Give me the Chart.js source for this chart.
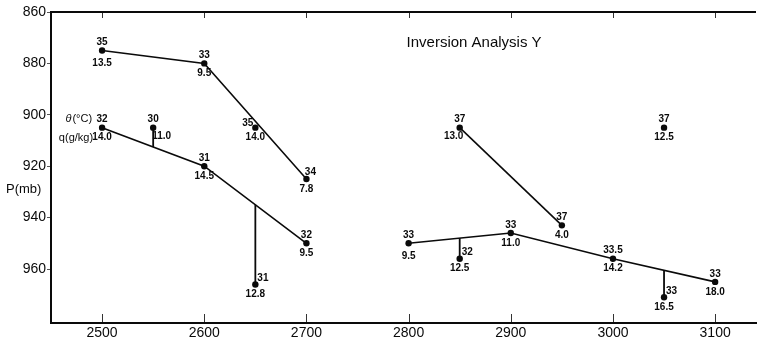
<!DOCTYPE html>
<html>
<head>
<meta charset="utf-8">
<title>Inversion Analysis Y</title>
<script src="https://cdn.jsdelivr.net/npm/chart.js@4/dist/chart.umd.min.js"></script>
<style>
  html, body { margin: 0; padding: 0; background: #ffffff; }
  #wrap { width: 760px; height: 339px; }
</style>
</head>
<body>
<div id="wrap"><canvas id="chart" width="760" height="339"></canvas></div>
<script>
// ---- Axis ticks ----
const distanceTicks = [2500, 2600, 2700, 2800, 2900, 3000, 3100];
const pressureTicks = [860, 880, 900, 920, 940, 960];

// ---- Leg A: upper traverse, west part ----
const legAX = [2500, 2600, 2700];
const legAP = [875, 880, 925];
const legATheta = [35, 33, 34];
const legAQ = [13.5, 9.5, 7.8];

// ---- Leg B: lower traverse, west part ----
const legBX = [2500, 2600, 2700];
const legBP = [905, 920, 950];
const legBTheta = [32, 31, 32];
const legBQ = [14.0, 14.5, 9.5];

// ---- Leg C: upper traverse, east part ----
const legCX = [2850, 2950];
const legCP = [905, 943];
const legCTheta = [37, 37];
const legCQ = [13.0, 4.0];

// ---- Leg D: lower traverse, east part ----
const legDX = [2800, 2900, 3000, 3100];
const legDP = [950, 946, 956, 965];
const legDTheta = [33, 33, 33.5, 33];
const legDQ = [9.5, 11.0, 14.2, 18.0];

// ---- Single soundings without a connecting line ----
const loneX = [2650, 3050];
const loneP = [905, 905];
const loneTheta = [35, 37];
const loneQ = [14.0, 12.5];

// ---- Soundings tied to a leg by a vertical stem ----
const stemX = [2550, 2650, 2850, 3050];
const stemP = [905, 966, 956, 971];
const stemTheta = [30, 31, 32, 33];
const stemQ = [11.0, 12.8, 12.5, 16.5];
const stemLeg = ['B', 'B', 'D', 'D'];

// ---- Label placement (where θ and q sit around each dot) ----
const legAThetaSide = ['above', 'above', 'aboveRight'];
const legAQSide = ['belowFar', 'below', 'below'];
const legBThetaSide = ['above', 'above', 'above'];
const legBQSide = ['below', 'below', 'below'];
const legCThetaSide = ['above', 'above'];
const legCQSide = ['belowLeft', 'below'];
const legDThetaSide = ['above', 'above', 'above', 'above'];
const legDQSide = ['belowFar', 'below', 'below', 'below'];
const loneThetaSide = ['aboveLeft', 'above'];
const loneQSide = ['below', 'below'];
const stemThetaSide = ['above', 'right', 'right', 'right'];
const stemQSide = ['belowRight', 'below', 'below', 'below'];

const legs = {
  A: { x: legAX, p: legAP },
  B: { x: legBX, p: legBP },
  C: { x: legCX, p: legCP },
  D: { x: legDX, p: legDP }
};

// Pressure where a leg passes a given distance (for the stem ends)
function legPressureAt(leg, x) {
  for (let i = 0; i < leg.x.length - 1; i++) {
    if (x >= leg.x[i] && x <= leg.x[i + 1]) {
      const t = (x - leg.x[i]) / (leg.x[i + 1] - leg.x[i]);
      return leg.p[i] + t * (leg.p[i + 1] - leg.p[i]);
    }
  }
  return leg.p[leg.p.length - 1];
}

const toPoints = (xs, ps) => xs.map((x, i) => ({ x: x, y: ps[i] }));

const INK = '#0a0a0a';
const lineStyle = {
  showLine: true,
  borderColor: INK,
  borderWidth: 1.6,
  pointRadius: 3.2,
  pointBackgroundColor: INK,
  pointBorderWidth: 0,
  tension: 0
};

const datasets = [
  Object.assign({ label: 'A', data: toPoints(legAX, legAP) }, lineStyle),
  Object.assign({ label: 'B', data: toPoints(legBX, legBP) }, lineStyle),
  Object.assign({ label: 'C', data: toPoints(legCX, legCP) }, lineStyle),
  Object.assign({ label: 'D', data: toPoints(legDX, legDP) }, lineStyle),
  Object.assign({}, lineStyle, { label: 'single', showLine: false, data: toPoints(loneX, loneP) })
];

// Each stem: the sounding dot plus a vertical line up/down to its leg
stemX.forEach((x, i) => {
  datasets.push(Object.assign({}, lineStyle, {
    label: 'stem' + i,
    borderWidth: 1.8,
    pointRadius: [3.2, 0],
    data: [{ x: x, y: stemP[i] }, { x: x, y: legPressureAt(legs[stemLeg[i]], x) }]
  }));
});

// Groups of annotated soundings
const annotated = [
  { x: legAX, p: legAP, t: legATheta, q: legAQ, ts: legAThetaSide, qs: legAQSide },
  { x: legBX, p: legBP, t: legBTheta, q: legBQ, ts: legBThetaSide, qs: legBQSide },
  { x: legCX, p: legCP, t: legCTheta, q: legCQ, ts: legCThetaSide, qs: legCQSide },
  { x: legDX, p: legDP, t: legDTheta, q: legDQ, ts: legDThetaSide, qs: legDQSide },
  { x: loneX, p: loneP, t: loneTheta, q: loneQ, ts: loneThetaSide, qs: loneQSide },
  { x: stemX, p: stemP, t: stemTheta, q: stemQ, ts: stemThetaSide, qs: stemQSide }
];

const sideOffsets = {
  above:      { dx: 0,  dy: -8,  align: 'center' },
  aboveRight: { dx: 4,  dy: -7,  align: 'center' },
  aboveLeft:  { dx: -2, dy: -4,  align: 'right' },
  right:      { dx: 2,  dy: -6,  align: 'left' },
  below:      { dx: 0,  dy: 10,  align: 'center' },
  belowFar:   { dx: 0,  dy: 13,  align: 'center' },
  belowLeft:  { dx: -6, dy: 9,   align: 'center' },
  belowRight: { dx: -1, dy: 9,   align: 'left' }
};

const labelPlugin = {
  id: 'soundingLabels',
  afterDatasetsDraw(chart) {
    const ctx = chart.ctx;
    const xs = chart.scales.x, ys = chart.scales.y;
    const area = chart.chartArea;
    ctx.save();

    // Frame: top border and inward tick marks
    ctx.strokeStyle = INK;
    ctx.lineWidth = 2;
    ctx.beginPath();
    ctx.moveTo(area.left, area.top);
    ctx.lineTo(area.right, area.top);
    ctx.stroke();
    ctx.lineWidth = 1;
    ctx.strokeStyle = '#333';
    distanceTicks.forEach(v => {
      const px = Math.round(xs.getPixelForValue(v)) + 0.5;
      ctx.beginPath();
      ctx.moveTo(px, area.top + 1);
      ctx.lineTo(px, area.top + 6);
      ctx.moveTo(px, area.bottom - 1);
      ctx.lineTo(px, area.bottom - 9);
      ctx.stroke();
    });

    // θ and q values around each dot
    ctx.fillStyle = INK;
    ctx.textBaseline = 'middle';
    ctx.font = 'bold 10px "Liberation Sans", Arial, sans-serif';
    annotated.forEach(g => {
      g.x.forEach((x, i) => {
        const px = xs.getPixelForValue(x);
        const py = ys.getPixelForValue(g.p[i]);
        const a = sideOffsets[g.ts[i]];
        ctx.textAlign = a.align;
        ctx.fillText(String(g.t[i]), px + a.dx, py + a.dy);
        const b = sideOffsets[g.qs[i]];
        ctx.textAlign = b.align;
        ctx.fillText(g.q[i].toFixed(1), px + b.dx, py + b.dy);
      });
    });

    // Key for the two numbers at each dot
    const kx = xs.getPixelForValue(legBX[0]) - 10;
    const ky = ys.getPixelForValue(legBP[0]);
    ctx.font = '11px "Liberation Sans", Arial, sans-serif';
    ctx.textAlign = 'right';
    ctx.fillText('(°C)', kx, ky - 9);
    const w = ctx.measureText('(°C)').width;
    ctx.font = 'italic 11px "Liberation Sans", Arial, sans-serif';
    ctx.fillText('θ', kx - w - 1, ky - 9);
    ctx.font = '11px "Liberation Sans", Arial, sans-serif';
    ctx.fillText('q(g/kg)', kx + 1, ky + 10);

    // Axis name and chart title
    ctx.font = '13px "Liberation Sans", Arial, sans-serif';
    ctx.textAlign = 'left';
    ctx.fillText('P(mb)', area.left - 45, ys.getPixelForValue(929));
    ctx.font = '15px "Liberation Sans", Arial, sans-serif';
    ctx.fillText('Inversion Analysis Y', xs.getPixelForValue(2798), ys.getPixelForValue(872));
    ctx.restore();
  }
};

new Chart(document.getElementById('chart'), {
  type: 'scatter',
  data: { datasets: datasets },
  options: {
    responsive: false,
    devicePixelRatio: 1,
    animation: false,
    events: [],
    layout: { padding: { top: 12, right: 0, left: 0, bottom: 0 } },
    plugins: { legend: { display: false }, tooltip: { enabled: false } },
    scales: {
      x: {
        type: 'linear',
        min: 2450,
        max: 3140,
        afterBuildTicks: s => { s.ticks = distanceTicks.map(v => ({ value: v })); },
        afterFit: s => { s.height = 16; },
        ticks: {
          color: INK,
          padding: 2,
          maxRotation: 0,
          callback: v => String(v),
          font: { family: '"Liberation Sans", Arial, sans-serif', size: 14 }
        },
        grid: { drawOnChartArea: false, drawTicks: false },
        border: { display: true, color: INK, width: 2 }
      },
      y: {
        type: 'linear',
        reverse: true,
        min: 860,
        max: 981,
        afterBuildTicks: s => { s.ticks = pressureTicks.map(v => ({ value: v })); },
        afterFit: s => { s.width = 51; },
        ticks: {
          color: INK,
          padding: 1,
          callback: v => String(v),
          font: { family: '"Liberation Sans", Arial, sans-serif', size: 14 }
        },
        grid: { drawOnChartArea: false, drawTicks: true, tickLength: 4, color: '#555' },
        border: { display: true, color: INK, width: 2 }
      }
    }
  },
  plugins: [labelPlugin]
});
</script>
</body>
</html>
